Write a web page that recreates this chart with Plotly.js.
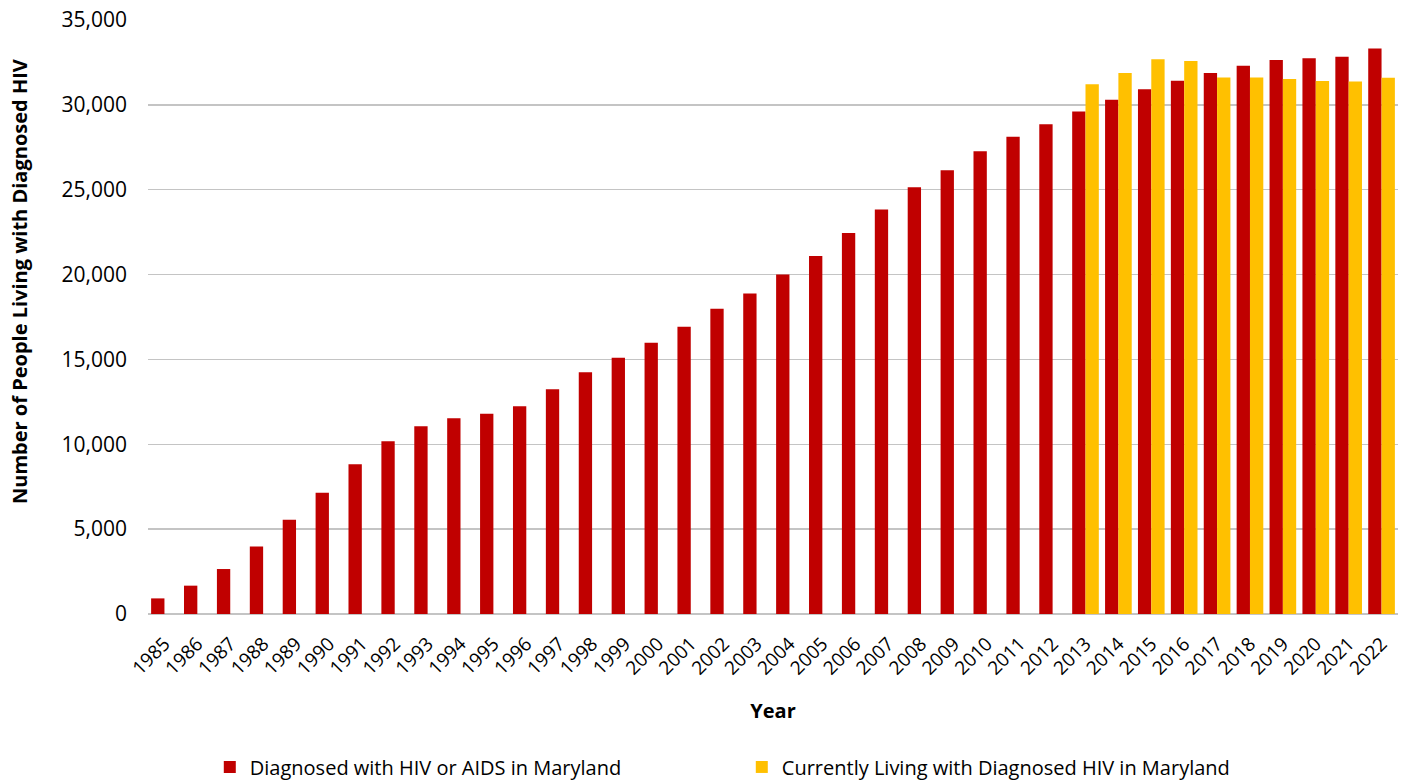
<!DOCTYPE html>
<html>
<head>
<meta charset="utf-8">
<script src="https://cdn.plot.ly/plotly-3.0.1.min.js"></script>
<style>
  body { margin: 0; background: #fff; }
  #chart { width: 1408px; height: 781px; }
</style>
</head>
<body>
<div id="chart"></div>
<script>
// years on the x axis
const years = ['1985', '1986', '1987', '1988', '1989', '1990', '1991', '1992', '1993', '1994',
  '1995', '1996', '1997', '1998', '1999', '2000', '2001', '2002', '2003', '2004',
  '2005', '2006', '2007', '2008', '2009', '2010', '2011', '2012', '2013', '2014',
  '2015', '2016', '2017', '2018', '2019', '2020', '2021', '2022'];

// Diagnosed with HIV or AIDS in Maryland
const diagnosed = [920, 1670, 2650, 3980, 5550, 7140, 8820, 10180, 11060, 11530,
  11800, 12240, 13240, 14240, 15100, 15980, 16920, 17980, 18880, 20000,
  21100, 22450, 23840, 25140, 26140, 27270, 28120, 28860, 29610, 30300,
  30920, 31420, 31880, 32300, 32650, 32750, 32830, 33320];

// Currently living with diagnosed HIV (only from 2013 on)
const living = [null, null, null, null, null, null, null, null, null, null,
  null, null, null, null, null, null, null, null, null, null,
  null, null, null, null, null, null, null, null, 31220, 31880,
  32690, 32590, 31610, 31610, 31530, 31410, 31370, 31590];

const seriesNames = ['Diagnosed with HIV or AIDS in Maryland',
  'Currently Living with Diagnosed HIV in Maryland'];

const font = 'Open Sans, Noto Sans, sans-serif';

var trace1 = {
  x: years,
  y: diagnosed,
  type: 'bar',
  name: seriesNames[0],
  marker: { color: '#C00000' },
  hoverinfo: 'x+y'
};
var trace2 = {
  x: years,
  y: living,
  type: 'bar',
  name: seriesNames[1],
  marker: { color: '#FFC000' },
  hoverinfo: 'x+y'
};

var layout = {
  width: 1408,
  height: 781,
  margin: { l: 148, r: 10, t: 20, b: 167 },
  paper_bgcolor: '#fff',
  plot_bgcolor: '#fff',
  font: { family: font, size: 18, color: '#000' },
  barmode: 'group',
  bargap: 0.19,
  bargroupgap: 0,
  showlegend: true,
  legend: {
    orientation: 'h',
    xref: 'container',
    yref: 'container',
    x: 0.149,
    y: 0.018,
    xanchor: 'left',
    yanchor: 'middle',
    entrywidth: 487,
    entrywidthmode: 'pixels',
    font: { family: font, size: 20, color: '#000' }
  },
  xaxis: {
    type: 'category',
    tickangle: -45,
    ticks: '',
    showgrid: false,
    showline: false,
    automargin: false,
    ticklabelstandoff: 14,
    tickfont: { family: font, size: 19 },
    title: { text: '<b>Year</b>', standoff: 24, font: { family: font, size: 20 } }
  },
  yaxis: {
    range: [0, 35000],
    dtick: 5000,
    tickformat: ',d',
    showgrid: true,
    gridcolor: '#C4C4C4',
    gridwidth: 1.5,
    zeroline: true,
    zerolinecolor: '#C4C4C4',
    zerolinewidth: 1.5,
    showline: false,
    automargin: false,
    ticks: '',
    ticklabelstandoff: 20,
    tickfont: { family: font, size: 21 }
  },
  // y title sits above the axis centre in the original, so it is placed by hand
  annotations: [{
    text: '<b>Number of People Living with Diagnosed HIV</b>',
    xref: 'paper',
    yref: 'paper',
    x: -0.1024,
    y: 0.559,
    xanchor: 'center',
    yanchor: 'middle',
    textangle: -90,
    showarrow: false,
    font: { family: font, size: 20, color: '#000' }
  }]
};

Plotly.newPlot('chart', [trace1, trace2], layout, { displayModeBar: false, staticPlot: true });
</script>
</body>
</html>
